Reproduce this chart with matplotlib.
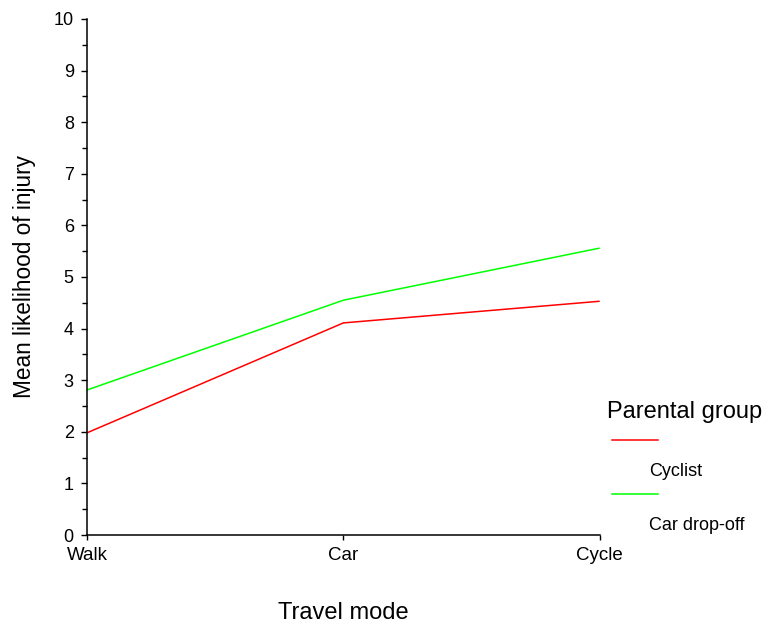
import matplotlib.pyplot as plt
from matplotlib.lines import Line2D
from matplotlib.ticker import MultipleLocator

plt.rcParams['font.family'] = ['Liberation Sans', 'DejaVu Sans']

# --- data ---
travel_modes = ["Walk", "Car", "Cycle"]
cyclist = [1.98, 4.11, 4.53]
car_dropoff = [2.81, 4.55, 5.56]
group_names = ["Cyclist", "Car drop-off"]
group_colors = ["#ff0000", "#00ff00"]

fig = plt.figure(figsize=(7.63, 6.24), dpi=100)
ax = fig.add_axes([0.114, 0.1426, 0.672, 0.827])

x = range(len(travel_modes))
for vals, col in zip([cyclist, car_dropoff], group_colors):
    ax.plot(x, vals, color=col, lw=1.1, solid_capstyle='butt')

ax.set_xlim(0, len(travel_modes) - 1)
ax.set_ylim(0, 10)
ax.set_xticks(list(x))
ax.set_xticklabels(travel_modes)
ax.yaxis.set_major_locator(MultipleLocator(1))
ax.yaxis.set_minor_locator(MultipleLocator(0.5))

for side in ['top', 'right']:
    ax.spines[side].set_visible(False)
for side in ['left', 'bottom']:
    ax.spines[side].set_linewidth(1.1)

ax.tick_params(axis='y', which='major', length=4.5, width=1.0, labelsize=13, pad=5)
ax.tick_params(axis='y', which='minor', length=3.5, width=1.0)
ax.tick_params(axis='x', which='major', length=3.5, width=1.0, labelsize=13.5, pad=5)

ax.set_xlabel("Travel mode", fontsize=17)
ax.xaxis.label.set_va('center')
ax.xaxis.set_label_coords(0.5, -0.151)
ax.set_ylabel("Mean likelihood of injury", fontsize=16.3)
ax.yaxis.label.set_va('center')
ax.yaxis.set_label_coords(-0.121, 0.5)

# legend drawn by hand: title, then each line with its label below it
W, H = 763, 624
fig.text(607 / W, 1 - 412 / H, "Parental group", fontsize=17, va='center', ha='left')
line_y = [440, 494]
label_y = [472, 525]
for name, col, ly, ty in zip(group_names, group_colors, line_y, label_y):
    fig.add_artist(Line2D([612 / W, 658 / W], [1 - ly / H, 1 - ly / H],
                          color=col, lw=1.1, transform=fig.transFigure))
    fig.text(649 / W, 1 - ty / H, name, fontsize=13, va='center', ha='left')

fig.savefig("out.png", dpi=100)
